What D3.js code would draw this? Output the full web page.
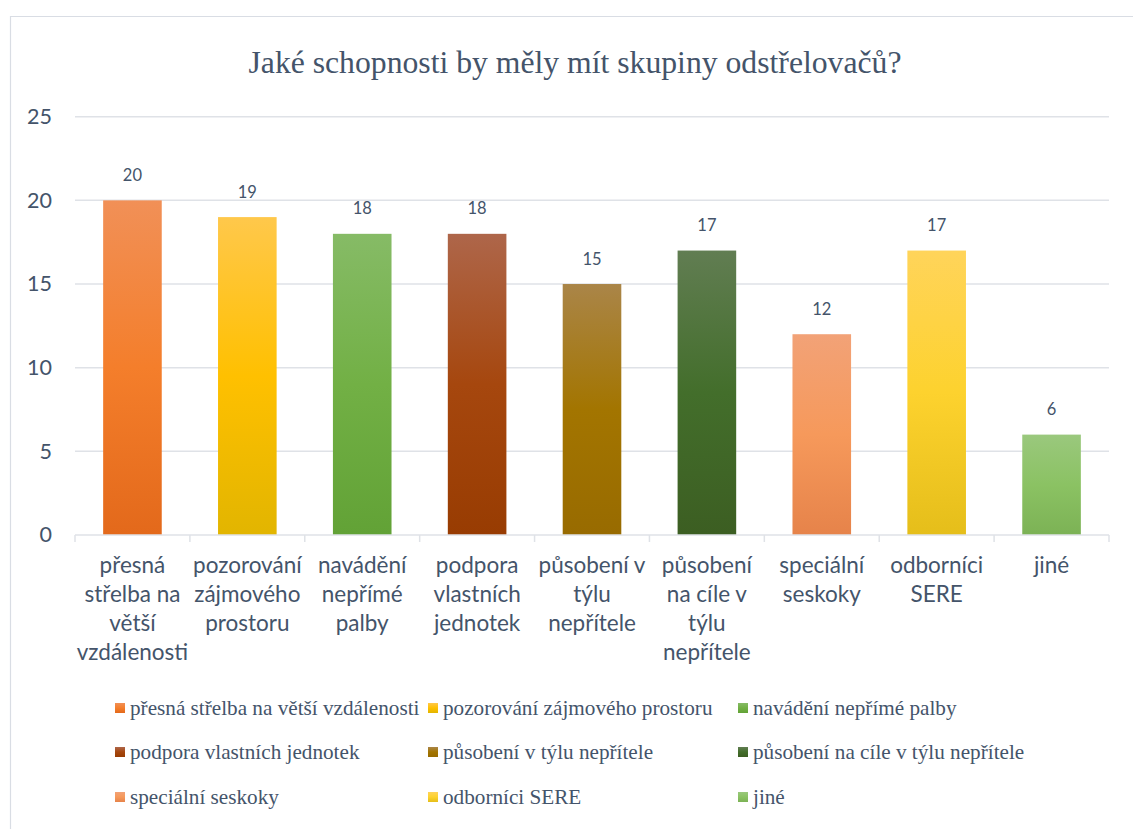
<!DOCTYPE html>
<html>
<head>
<meta charset="utf-8">
<script src="https://cdn.jsdelivr.net/npm/d3@7/dist/d3.min.js"></script>
<style>
  html, body { margin: 0; padding: 0; background: #fff; }
  svg { display: block; }
</style>
</head>
<body>
<svg id="chart"></svg>
<script>
// chart data
const title = 'Jaké schopnosti by měly mít skupiny odstřelovačů?';
const categories = [
  'přesná střelba na větší vzdálenosti',
  'pozorování zájmového prostoru',
  'navádění nepřímé palby',
  'podpora vlastních jednotek',
  'působení v týlu nepřítele',
  'působení na cíle v týlu nepřítele',
  'speciální seskoky',
  'odborníci SERE',
  'jiné'
];
// axis labels wrapped as in the original
const categoryLines = [
  ['přesná', 'střelba na', 'větší', 'vzdálenosti'],
  ['pozorování', 'zájmového', 'prostoru'],
  ['navádění', 'nepřímé', 'palby'],
  ['podpora', 'vlastních', 'jednotek'],
  ['působení v', 'týlu', 'nepřítele'],
  ['působení', 'na cíle v', 'týlu', 'nepřítele'],
  ['speciální', 'seskoky'],
  ['odborníci', 'SERE'],
  ['jiné']
];
const values = [20, 19, 18, 18, 15, 17, 12, 17, 6];
const yTicks = [0, 5, 10, 15, 20, 25];
// gradient stops per bar: top, middle, bottom
const barColors = [
  ['#f19057', '#f47e2b', '#e3691b'],
  ['#ffc84b', '#ffc000', '#e2b500'],
  ['#86bb66', '#72b045', '#62a236'],
  ['#ae664a', '#a6470e', '#983c02'],
  ['#aa8548', '#a37500', '#986b00'],
  ['#617d52', '#436e2b', '#3c5e22'],
  ['#f2a277', '#f6995b', '#e6834a'],
  ['#ffd45a', '#fdd22e', '#e5be1a'],
  ['#9ac87d', '#8bc263', '#7cb255']
];

const W = 1133, H = 829;
const textColor = '#44546a';
const gridColor = '#dfe2e7';
const sansFont = 'Lato, "Open Sans", sans-serif';
const serifFont = '"Liberation Serif", "Times New Roman", serif';
const margin = { left: 75, right: 1109, top: 116.7, bottom: 535 };

const svg = d3.select('#chart').attr('width', W).attr('height', H);

// outer chart border (only top and left are visible)
svg.append('path')
  .attr('d', `M10.5,${H} V16.5 H${W}`)
  .attr('fill', 'none')
  .attr('stroke', '#d9dde4')
  .attr('stroke-width', 1.2);

// gradients
const defs = svg.append('defs');
barColors.forEach((c, i) => {
  const g = defs.append('linearGradient')
    .attr('id', 'grad' + i)
    .attr('x1', 0).attr('y1', 0).attr('x2', 0).attr('y2', 1);
  g.append('stop').attr('offset', '0%').attr('stop-color', c[0]);
  g.append('stop').attr('offset', '50%').attr('stop-color', c[1]);
  g.append('stop').attr('offset', '100%').attr('stop-color', c[2]);
});

// title
svg.append('text')
  .attr('x', 575)
  .attr('y', 73)
  .attr('text-anchor', 'middle')
  .style('font-family', serifFont)
  .style('font-size', '31.7px')
  .style('fill', textColor)
  .text(title);

// scales
const x = d3.scaleBand()
  .domain(categories)
  .range([margin.left, margin.right])
  .paddingInner(0.49)
  .paddingOuter(0.245);

const y = d3.scaleLinear()
  .domain([0, 25])
  .range([margin.bottom, margin.top]);

// grid lines
svg.append('g')
  .selectAll('line')
  .data(yTicks.filter(d => d > 0))
  .enter()
  .append('line')
  .attr('x1', margin.left)
  .attr('x2', margin.right)
  .attr('y1', d => y(d))
  .attr('y2', d => y(d))
  .attr('stroke', gridColor)
  .attr('stroke-width', 1.5);

// y axis labels
const yAxis = svg.append('g')
  .attr('transform', `translate(${margin.left},0)`)
  .call(d3.axisLeft(y).tickValues(yTicks).tickSize(0).tickPadding(23));
yAxis.select('.domain').remove();
yAxis.selectAll('text')
  .style('font-family', sansFont)
  .style('font-size', '21.5px')
  .style('fill', textColor);

// bars
svg.append('g')
  .selectAll('rect')
  .data(values)
  .enter()
  .append('rect')
  .attr('x', (d, i) => x(categories[i]))
  .attr('y', d => y(d))
  .attr('width', x.bandwidth())
  .attr('height', d => y(0) - y(d))
  .attr('fill', (d, i) => `url(#grad${i})`);

// value labels
svg.append('g')
  .selectAll('text')
  .data(values)
  .enter()
  .append('text')
  .attr('x', (d, i) => x(categories[i]) + x.bandwidth() / 2)
  .attr('y', d => y(d) - 19.5)
  .attr('text-anchor', 'middle')
  .style('font-family', sansFont)
  .style('font-size', '16.5px')
  .style('fill', textColor)
  .text(d => d);

// x axis line + category ticks
const step = (margin.right - margin.left) / categories.length;
const xAxisG = svg.append('g');
xAxisG.append('line')
  .attr('x1', margin.left).attr('x2', margin.right)
  .attr('y1', margin.bottom).attr('y2', margin.bottom)
  .attr('stroke', gridColor).attr('stroke-width', 1.5);
xAxisG.selectAll('.tick')
  .data(d3.range(categories.length + 1))
  .enter()
  .append('line')
  .attr('x1', i => margin.left + i * step)
  .attr('x2', i => margin.left + i * step)
  .attr('y1', margin.bottom)
  .attr('y2', margin.bottom + 7)
  .attr('stroke', gridColor).attr('stroke-width', 1.5);

// category labels
const labelG = svg.append('g');
categories.forEach((cat, i) => {
  const cx = x(cat) + x.bandwidth() / 2;
  const t = labelG.append('text')
    .attr('text-anchor', 'middle')
    .style('font-family', sansFont)
    .style('font-size', '22.5px')
    .style('fill', textColor);
  categoryLines[i].forEach((l, j) => {
    t.append('tspan')
      .attr('x', cx)
      .attr('y', 573 + j * 29)
      .text(l);
  });
});

// legend
const legendCols = [115, 428, 738];
const legendRows = [708, 752, 797];
const legend = svg.append('g');
categories.forEach((cat, i) => {
  const lx = legendCols[i % 3];
  const ly = legendRows[Math.floor(i / 3)];
  legend.append('rect')
    .attr('x', lx)
    .attr('y', ly - 5)
    .attr('width', 10)
    .attr('height', 10)
    .attr('fill', `url(#grad${i})`);
  legend.append('text')
    .attr('x', lx + 15)
    .attr('y', ly + 6.5)
    .style('font-family', serifFont)
    .style('font-size', '21.2px')
    .style('fill', textColor)
    .text(cat);
});
</script>
</body>
</html>
